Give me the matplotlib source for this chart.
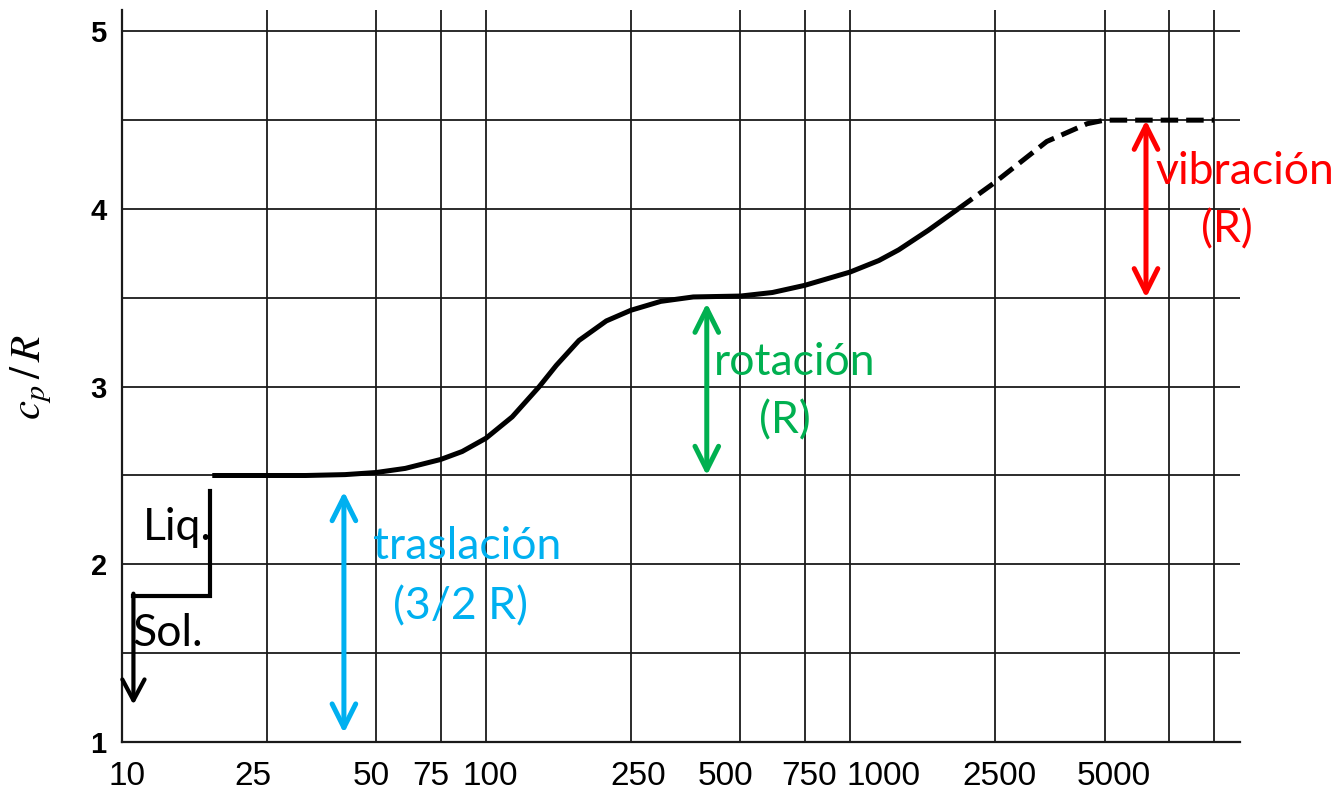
import matplotlib
matplotlib.use("Agg")
import matplotlib.pyplot as plt
import matplotlib.transforms as mtransforms

# ---- data ----
T_solid = [17.7, 25, 32, 41, 50, 60, 75, 86, 100, 118, 140, 156, 180, 214, 250, 302,
           371, 500, 612, 750, 1000, 1200, 1360, 1640, 1980]
cp_solid = [2.50, 2.50, 2.50, 2.505, 2.517, 2.54, 2.59, 2.635, 2.71, 2.83, 3.00, 3.12,
            3.26, 3.37, 3.43, 3.48, 3.505, 3.51, 3.53, 3.57, 3.645, 3.71, 3.77, 3.88, 4.00]
T_dash = [1980, 2500, 3470, 4480, 5000, 7500, 10000]
cp_dash = [4.00, 4.15, 4.38, 4.48, 4.50, 4.50, 4.50]

x_ticks = [10, 25, 50, 75, 100, 250, 500, 750, 1000, 2500, 5000]
x_grid_extra = [7500, 10000]
y_ticks = [1, 2, 3, 4, 5]
y_minor = [1.5, 2.5, 3.5, 4.5]

# label shifts (pixels) seen in the scanned original
x_label_shift = [5, -14, -5, -10, 4, 7, -15, 4, 33, 5, 9]

fig = plt.figure(figsize=(13.37, 7.96), dpi=100)
ax = fig.add_axes([122/1337, 54/796, (1240-122)/1337, (786-54)/796])
ax.set_xscale("log")
ax.set_xlim(10, 11780)
ax.set_ylim(1, 5.12)

# grid
for xv in x_ticks[1:] + x_grid_extra:
    ax.axvline(xv, color="#1a1a1a", lw=1.3, zorder=1)
for yv in y_ticks[1:] + y_minor:
    ax.axhline(yv, color="#1a1a1a", lw=1.3, zorder=1)

ax.plot(T_solid, cp_solid, color="black", lw=3.6, solid_capstyle="butt",
        solid_joinstyle="round", zorder=3)
ax.plot(T_dash, cp_dash, color="black", lw=3.6, linestyle=(0, (3.5, 1.6)), zorder=3)

ax.set_xticks(x_ticks)
ax.set_xticklabels([str(v) for v in x_ticks], fontsize=24, family="Liberation Sans")
ax.xaxis.set_minor_locator(matplotlib.ticker.NullLocator())
ax.set_yticks(y_ticks)
ax.set_yticklabels([str(v) for v in y_ticks], fontsize=21, family="Liberation Sans",
                   fontweight="bold")
ax.tick_params(axis="x", length=0, pad=14)
ax.tick_params(axis="y", length=0, pad=11)
for lab, dx in zip(ax.get_xticklabels(), x_label_shift):
    lab.set_transform(lab.get_transform() +
                      mtransforms.ScaledTranslation(dx / 100, 0, fig.dpi_scale_trans))

for s in ["top", "right"]:
    ax.spines[s].set_visible(False)
for s in ["left", "bottom"]:
    ax.spines[s].set_linewidth(1.6)
    ax.spines[s].set_color("#1a1a1a")

plt.rcParams["mathtext.fontset"] = "stix"
fig.text(31/1337, 1 - 377/796, r"$c_p\,/\,R$", rotation=90, fontsize=31,
         ha="center", va="center")

tfont = "Lato"
fs = 32


def arrow(x, y0, y1, color):
    ax.annotate("", xy=(x, y1), xytext=(x, y0),
                arrowprops=dict(arrowstyle="<->,head_length=1.7,head_width=0.85",
                                lw=3.6, color=color, shrinkA=0, shrinkB=0), zorder=5)


blue = "#00B0F0"
green = "#00B050"
red = "#FF0000"

arrow(40.7, 1.05, 2.41, blue)
arrow(404, 2.50, 3.47, green)
arrow(6500, 3.50, 4.50, red)

ax.text(88.7, 2.10, "traslación", color=blue, fontsize=fs, family=tfont, ha="center", va="center")
ax.text(85, 1.76, "(3/2 R)", color=blue, fontsize=fs, family=tfont, ha="center", va="center")
ax.text(702, 3.135, "rotación", color=green, fontsize=fs, family=tfont, ha="center", va="center")
ax.text(660, 2.81, "(R)", color=green, fontsize=fs, family=tfont, ha="center", va="center")
ax.text(12160, 4.21, "vibración", color=red, fontsize=fs, family=tfont, ha="center",
        va="center", clip_on=False)
ax.text(10860, 3.88, "(R)", color=red, fontsize=fs, family=tfont, ha="center", va="center")

# solid/liquid step
ax.plot([17.4, 17.4, 10.75], [2.41, 1.82, 1.82], color="black", lw=3.0,
        solid_joinstyle="miter", zorder=5)
ax.annotate("", xy=(10.75, 1.21), xytext=(10.75, 1.835),
            arrowprops=dict(arrowstyle="->,head_length=1.5,head_width=0.8", lw=3.0,
                            color="black", shrinkA=0, shrinkB=0), zorder=5)
ax.text(14.2, 2.21, "Liq.", color="black", fontsize=fs, family=tfont, ha="center", va="center")
ax.text(13.4, 1.61, "Sol.", color="black", fontsize=fs, family=tfont, ha="center", va="center")

fig.savefig("out.png", dpi=100)
